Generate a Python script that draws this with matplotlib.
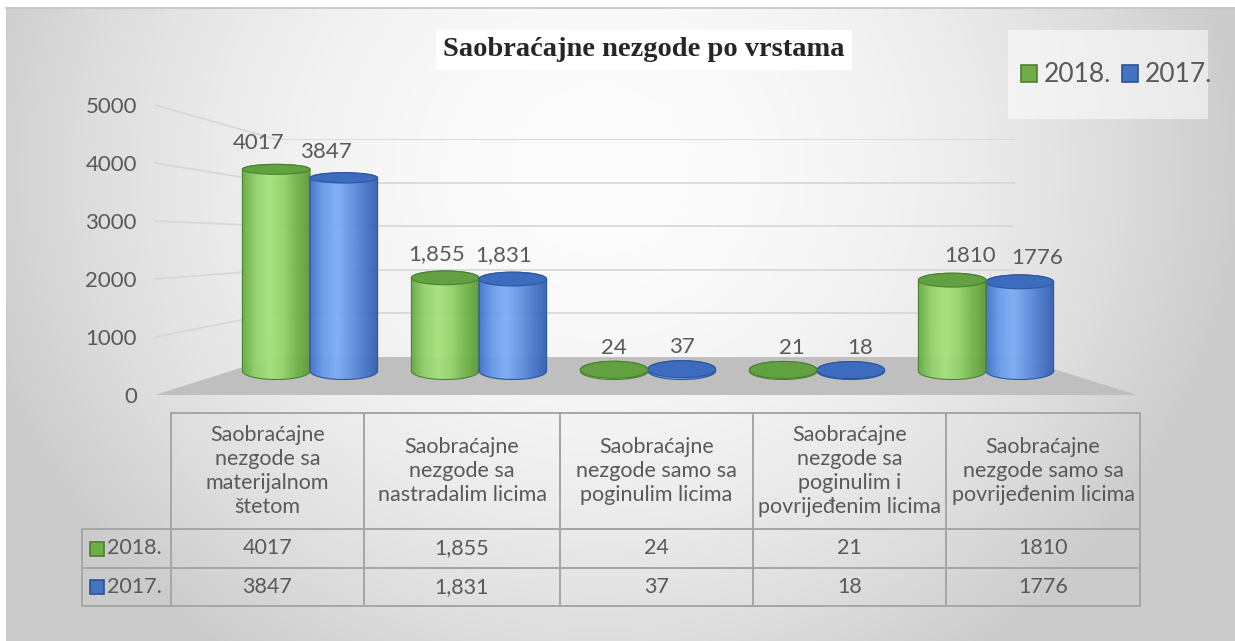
import numpy as np
import matplotlib
matplotlib.use("Agg")
import matplotlib.pyplot as plt
from matplotlib.patches import Rectangle, Ellipse, PathPatch, Polygon, Patch
from matplotlib.path import Path
from matplotlib.table import Table
from matplotlib.colors import LinearSegmentedColormap
from matplotlib.lines import Line2D

# ---------------- data ----------------
title = "Saobraćajne nezgode po vrstama"
series_names = ["2018.", "2017."]
categories = [
    "Saobraćajne\nnezgode sa\nmaterijalnom\nštetom",
    "Saobraćajne\nnezgode sa\nnastradalim licima",
    "Saobraćajne\nnezgode samo sa\npoginulim licima",
    "Saobraćajne\nnezgode sa\npoginulim i\npovrijeđenim licima",
    "Saobraćajne\nnezgode samo sa\npovrijeđenim licima",
]
values_2018 = [4017, 1855, 24, 21, 1810]
values_2017 = [3847, 1831, 37, 18, 1776]
labels_2018 = ["4017", "1,855", "24", "21", "1810"]
labels_2017 = ["3847", "1,831", "37", "18", "1776"]
y_ticks = [0, 1000, 2000, 3000, 4000, 5000]
y_tick_labels = ["0", "1000", "2000", "3000", "4000", "5000"]

# ---------------- style ----------------
W, H = 1235, 641
TXT = "#595959"
GREEN_FACE, GREEN_EDGE = "#70ad47", "#507e32"
BLUE_FACE, BLUE_EDGE = "#4472c4", "#2f528f"
green_grad = ["#67a843", "#93d26a", "#a7e07d", "#96d46c", "#74b54c", "#5c9a3a"]
blue_grad = ["#4173cb", "#6a9bea", "#7eadf4", "#6593e2", "#4a78cc", "#345fae"]
green_top, green_top_edge = "#62a041", "#4a8230"
blue_top, blue_top_edge = "#3d6bbd", "#2b57a0"

plt.rcParams["font.family"] = ["Lato", "DejaVu Sans"]

fig = plt.figure(figsize=(W / 100, H / 100), dpi=100)
fig.patch.set_facecolor("white")


def box(l, t, r, b):
    return [l / W, 1 - b / H, (r - l) / W, (b - t) / H]


# background axes in pixel coordinates
bg = fig.add_axes([0, 0, 1, 1], zorder=0)
bg.set_xlim(0, W)
bg.set_ylim(H, 0)
bg.axis("off")

yy, xx = np.mgrid[7:H, 6:W]
r2 = ((xx - 600) / 650.0) ** 2 + ((yy - 170) / 600.0) ** 2
val = np.clip(252 - 50 * r2, 203, 252) / 255.0
bg.imshow(np.dstack([val] * 3), extent=(6, W, H, 7), aspect="auto",
          interpolation="bilinear", zorder=0)
bg.plot([6, W], [7.5, 7.5], color="#c4c4c4", lw=1.2, zorder=1)

# legend box
bg.add_patch(Rectangle((1008, 30), 200, 89, facecolor="white", alpha=0.55,
                       edgecolor="none", zorder=1))

# side wall (tick labels) and back wall
ax_tick = fig.add_axes(box(155, 105, 275, 395), zorder=1)
ax_tick.set_ylim(y_ticks[0], y_ticks[-1])
ax_tick.set_yticks(y_ticks, y_tick_labels)
ax_tick.set_xticks([])
ax_tick.tick_params(axis="y", length=0, pad=13, labelsize=16, labelcolor=TXT)
for s in ax_tick.spines.values():
    s.set_visible(False)
ax_tick.patch.set_visible(False)

ax_back = fig.add_axes(box(275, 139, 1015, 357), zorder=1)
ax_back.set_ylim(y_ticks[0], y_ticks[-1])
ax_back.set_xlim(0, 1)
ax_back.axis("off")
for v in y_ticks[1:]:
    ax_back.axhline(v, color="#d6d6d6", lw=1.2)

inv = bg.transData.inverted()
for v in y_ticks[1:]:
    p1 = inv.transform(ax_tick.transAxes.transform((0, 0)) * [1, 0] +
                       ax_tick.transData.transform((0, v)) * [0, 1])
    p2 = inv.transform(ax_back.transData.transform((0, v)))
    bg.add_line(Line2D([p1[0], p2[0]], [p1[1], p2[1]], color="#d6d6d6",
                       lw=1.2, zorder=2))

fl = inv.transform(ax_tick.transAxes.transform((0, 0)))
bl = inv.transform(ax_back.transData.transform((0, 0)))
br = inv.transform(ax_back.transData.transform((1, 0)))
fr = (1137, fl[1])
bg.add_patch(Polygon([fl, bl, br, fr], closed=True, facecolor="#bfbfbf",
                     edgecolor="none", zorder=3))

# ---------------- cylinders ----------------
ax_bar = fig.add_axes(box(140, 60, 1140, 400), zorder=2)
ax_bar.set_autoscale_on(False)
SP, X0, PXU, BASE = 169.0, 310.0, 0.0502, 371.0
ax_bar.set_xlim((140 - X0) / SP, (1140 - X0) / SP)
ax_bar.set_ylim((BASE - 400) / PXU, (BASE - 60) / PXU)
ax_bar.axis("off")
ax_bar.patch.set_visible(False)

bw = 0.40
EH_LOW, EH_SLOPE = 17.0, 7.0 / 4000.0   # ellipse height (px) flattens with height
cm_g = LinearSegmentedColormap.from_list("g", green_grad)
cm_b = LinearSegmentedColormap.from_list("b", blue_grad)
grad = np.linspace(0, 1, 128)[None, :]


def cylinder(xc, v, cmap, edge, top, top_edge, z):
    eb = EH_LOW / PXU
    et = (EH_LOW - EH_SLOPE * v) / PXU
    t1 = np.linspace(np.pi, 2 * np.pi, 60)
    t2 = np.linspace(0, np.pi, 60)
    xs = np.concatenate([xc + bw / 2 * np.cos(t1), xc + bw / 2 * np.cos(t2)])
    ys = np.concatenate([eb / 2 * np.sin(t1), v + et / 2 * np.sin(t2)])
    verts = np.column_stack([xs, ys])
    path = Path(np.vstack([verts, verts[:1]]),
                [Path.MOVETO] + [Path.LINETO] * (len(verts) - 1) + [Path.CLOSEPOLY])
    pp = PathPatch(path, facecolor="none", edgecolor=edge, lw=0.8, zorder=z + 0.2)
    ax_bar.add_patch(pp)
    im = ax_bar.imshow(grad, cmap=cmap, extent=[xc - bw / 2, xc + bw / 2, -eb / 2, v + et / 2],
                       aspect="auto", zorder=z, alpha=0.95, interpolation="bilinear")
    im.set_clip_path(pp)
    ax_bar.add_patch(Ellipse((xc, v), bw, et, facecolor=top, edgecolor=top_edge,
                             lw=0.8, zorder=z + 0.3))


for i in range(len(categories)):
    g = (i - bw / 2, values_2018[i], cm_g, green_top_edge, green_top, green_top_edge)
    b = (i + bw / 2, values_2017[i], cm_b, blue_top_edge, blue_top, blue_top_edge)
    order = [g, b] if i < 2 else [b, g]
    for k, args in enumerate(order):
        cylinder(*args, z=3 + i + k * 0.5)
    shift = 8.9 * (i - 2)
    for xc, v, lab in ((i - bw / 2, values_2018[i], labels_2018[i]),
                       (i + bw / 2, values_2017[i], labels_2017[i])):
        ax_bar.annotate(lab, xy=(xc, v), xytext=(shift, 22 + 4 * v / 4000),
                        textcoords="offset pixels",
                        ha="center", va="center", fontsize=16, color=TXT, zorder=20)

# ---------------- title ----------------
fig.text(644 / W, 1 - 50 / H, title, ha="center", va="center",
         fontfamily=["Liberation Serif", "DejaVu Serif"], fontweight="bold",
         fontsize=20.5, color="#262626",
         bbox=dict(boxstyle="square,pad=0.25", facecolor="white", edgecolor="none"),
         zorder=5)

# ---------------- legend ----------------
handles = [Patch(facecolor=GREEN_FACE, edgecolor=GREEN_EDGE, lw=1.2),
           Patch(facecolor=BLUE_FACE, edgecolor=BLUE_EDGE, lw=1.2)]
fig.legend(handles, series_names, ncol=2, loc="center left",
           bbox_to_anchor=(1021 / W, 1 - 75 / H), frameon=False, fontsize=19,
           handlelength=0.62, handleheight=0.62, handletextpad=0.23,
           columnspacing=0.42, borderpad=0, borderaxespad=0, labelcolor=TXT)

# ---------------- data table ----------------
ax_tab = fig.add_axes(box(82, 413, 1140, 606), zorder=3)
ax_tab.axis("off")
col_w = np.array([89, 193, 196, 193, 193, 194], float)
row_h = np.array([116, 39, 38], float)
col_w /= col_w.sum()
row_h /= row_h.sum()
tbl = Table(ax_tab, bbox=[0, 0, 1, 1])
rows = [[""] + categories,
        [series_names[0]] + labels_2018,
        [series_names[1]] + labels_2017]
for r in range(3):
    for c in range(6):
        loc = "right" if (c == 0 and r > 0) else "center"
        cell = tbl.add_cell(r, c, col_w[c], row_h[r], text=rows[r][c], loc=loc,
                            facecolor="none", edgecolor="#a6a6a6")
        cell.set_linewidth(1.4)
        if r == 0 and c == 0:
            cell.visible_edges = "open"
tbl.auto_set_font_size(False)
tbl.set_fontsize(15.5)
for (r, c), cell in tbl.get_celld().items():
    cell.get_text().set_color(TXT)
    cell.get_text().set_linespacing(1.25)
ax_tab.add_table(tbl)

sq_w, sq_h = 14 / 1058, 14 / 193
for k, (fc, ec) in enumerate([(GREEN_FACE, GREEN_EDGE), (BLUE_FACE, BLUE_EDGE)]):
    yc = 1 - row_h[0] - row_h[1] * k - row_h[k + 1] / 2
    ax_tab.add_patch(Rectangle((8 / 1058, yc - sq_h / 2), sq_w, sq_h, facecolor=fc,
                               edgecolor=ec, lw=1.2, transform=ax_tab.transAxes))

fig.savefig("out.png", dpi=100)
